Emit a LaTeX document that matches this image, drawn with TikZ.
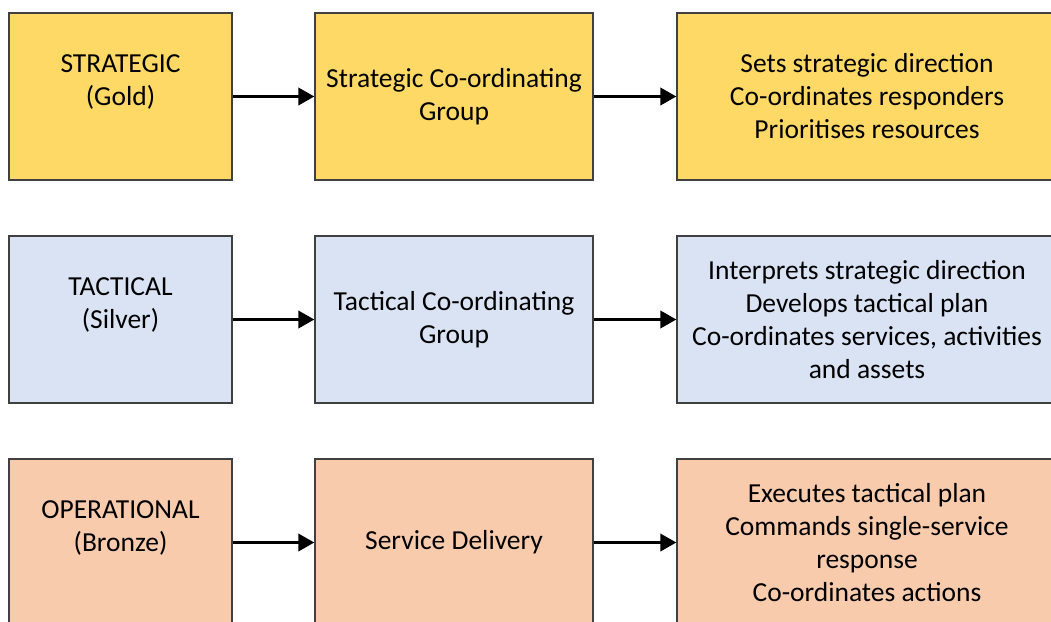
\documentclass[tikz,border=0pt]{standalone}
\usepackage{fontspec}
\setmainfont{Carlito}
\usetikzlibrary{arrows.meta}
\definecolor{gold}{HTML}{FFD966}
\definecolor{silver}{HTML}{DAE3F3}
\definecolor{bronze}{HTML}{F8CBAD}
\tikzset{
    lvl/.style={draw=black!75,line width=1.2pt,align=center,inner sep=0pt,minimum height=167pt,font=\fontsize{27.5}{33}\selectfont},
    narrow/.style={lvl,minimum width=223pt},
    mid/.style={lvl,minimum width=278pt},
    wide/.style={lvl,minimum width=380pt},
    flow/.style={line width=3.5pt,-{Triangle[length=16pt,width=17pt]}}
}

\begin{document}
\begin{tikzpicture}[x=1pt,y=-1pt]
    \useasboundingbox(0,0)rectangle(1051,621);
    \clip(0,0)rectangle(1051,621);

    \node[narrow,fill=gold](gold)at(120.5,96.5){STRATEGIC\\(Gold)\\\mbox{}};
    \node[mid,fill=gold](scg)at(454,96.5){Strategic Co-ordinating\\Group};
    \node[wide,fill=gold](goldrole)at(867,96.5){Sets strategic direction\\Co-ordinates responders\\Prioritises resources};

    \node[narrow,fill=silver](silver)at(120.5,319.5){TACTICAL\\(Silver)\\\mbox{}};
    \node[mid,fill=silver](tcg)at(454,319.5){Tactical Co-ordinating\\Group};
    \node[wide,fill=silver](silverrole)at(867,319.5){Interprets strategic direction\\Develops tactical plan\\Co-ordinates services, activities\\and assets};

    \node[narrow,fill=bronze](bronze)at(120.5,542.5){OPERATIONAL\\(Bronze)\\\mbox{}};
    \node[mid,fill=bronze](sd)at(454,542.5){Service Delivery};
    \node[wide,fill=bronze](bronzerole)at(867,542.5){Executes tactical plan\\Commands single-service\\response\\Co-ordinates actions};

    \draw[flow](gold.east)--(scg.west);
    \draw[flow](scg.east)--(goldrole.west);
    \draw[flow](silver.east)--(tcg.west);
    \draw[flow](tcg.east)--(silverrole.west);
    \draw[flow](bronze.east)--(sd.west);
    \draw[flow](sd.east)--(bronzerole.west);
\end{tikzpicture}
\end{document}
